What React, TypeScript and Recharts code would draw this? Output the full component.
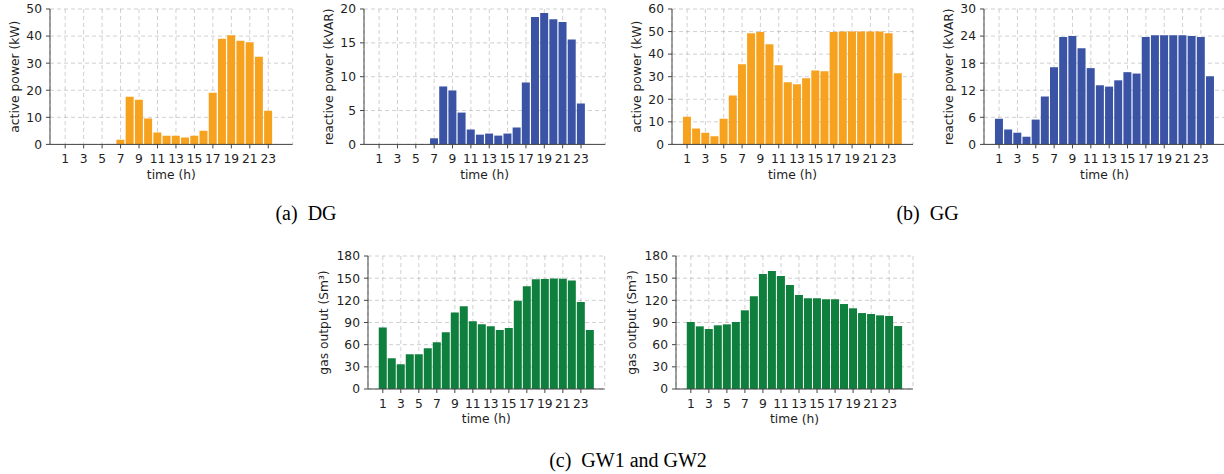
import React from 'react';
import { BarChart, Bar, XAxis, YAxis, CartesianGrid } from 'recharts';

// hours of the day, one bar each
const hours = [1, 2, 3, 4, 5, 6, 7, 8, 9, 10, 11, 12, 13, 14, 15, 16, 17, 18, 19, 20, 21, 22, 23, 24];
const hourTicks = [1, 3, 5, 7, 9, 11, 13, 15, 17, 19, 21, 23];

// (a) DG
const dgActive = [0, 0, 0, 0, 0, 0, 1.7, 17.6, 16.5, 9.6, 4.4, 3.2, 3.2, 2.5, 3.2, 5.0, 19.1, 39.0, 40.3, 38.3, 37.7, 32.4, 12.4, 0];
const dgReactive = [0, 0, 0, 0, 0, 0, 0.9, 8.56, 7.97, 4.7, 2.2, 1.44, 1.6, 1.3, 1.6, 2.5, 9.16, 18.8, 19.4, 18.5, 18.07, 15.5, 6.04, 0];

// (b) GG
const ggActive = [12.3, 7.0, 5.2, 3.6, 11.4, 21.7, 35.5, 49.3, 49.8, 44.4, 35.1, 27.5, 26.6, 29.3, 32.8, 32.4, 49.8, 50, 50, 50, 50, 50, 49.3, 31.5];
const ggReactive = [5.7, 3.3, 2.6, 1.7, 5.5, 10.6, 17.1, 23.8, 24.0, 21.3, 16.9, 13.1, 12.8, 14.2, 16.0, 15.7, 23.8, 24.2, 24.2, 24.2, 24.2, 24.0, 23.8, 15.1];

// (c) GW1 and GW2
const gw1Gas = [83.4, 41.5, 33.4, 46.9, 46.9, 55.0, 63.2, 76.7, 103.7, 111.9, 91.6, 87.5, 84.8, 79.8, 82.5, 119.5, 138.9, 148.4, 148.8, 149.7, 149.3, 147.0, 117.7, 79.8];
const gw2Gas = [90.7, 84.8, 81.2, 86.2, 87.5, 90.7, 106.5, 125.4, 155.6, 159.7, 152.9, 140.7, 127.2, 122.7, 122.7, 121.3, 121.3, 115.0, 109.2, 102.8, 101.5, 99.7, 98.8, 85.2];

const ticksDgP = [0, 10, 20, 30, 40, 50];
const ticksDgQ = [0, 5, 10, 15, 20];
const ticksGgP = [0, 10, 20, 30, 40, 50, 60];
const ticksGgQ = [0, 6, 12, 18, 24, 30];
const ticksGas = [0, 30, 60, 90, 120, 150, 180];

const ORANGE = '#F7A21E';
const BLUE = '#3A53A4';
const GREEN = '#0F7F3D';
const SPINE = '#444';
const TXT = '#1e1e1e';
const FONT = 'DejaVu Sans';
const FS = 12.3;
const xDomain: [number, number] = [-0.645, 25.645];

type PanelProps = {
  values: number[];
  color: string;
  yTicks: number[];
  yLabel: string;
  x0: number;
  y0: number;
  w: number;
  h: number;
  labelGap: number;
};

const Panel = ({ values, color, yTicks, yLabel, x0, y0, w, h, labelGap }: PanelProps) => {
  const data = hours.map((hr, i) => ({ hr, v: values[i] }));
  const yw = labelGap * 2;
  const tickStyle = { fill: TXT, fontSize: FS, fontFamily: FONT };
  return (
    <div className="panel" style={{ position: 'absolute', left: x0 - yw, top: y0 - 10 }}>
      <BarChart
        width={w + yw + 10}
        height={h + 70}
        data={data}
        margin={{ top: 10, right: 10, bottom: 0, left: 0 }}
        barCategoryGap="5%"
      >
        <XAxis
          dataKey="hr"
          type="number"
          domain={xDomain}
          allowDataOverflow
          ticks={hourTicks}
          interval={0}
          height={60}
          tickSize={4}
          tickMargin={6}
          tick={tickStyle}
          tickLine={{ stroke: SPINE }}
          axisLine={{ stroke: SPINE }}
          label={{ value: 'time (h)', position: 'center', fill: TXT, fontSize: FS, fontFamily: FONT }}
        />
        <XAxis
          xAxisId="top"
          orientation="top"
          type="number"
          domain={xDomain}
          allowDataOverflow
          height={0}
          tick={false}
          tickLine={false}
          axisLine={{ stroke: SPINE }}
        />
        <YAxis
          type="number"
          domain={[0, yTicks[yTicks.length - 1]]}
          ticks={yTicks}
          interval={0}
          width={yw}
          tickSize={4}
          tickMargin={4}
          tick={tickStyle}
          tickLine={{ stroke: SPINE }}
          axisLine={{ stroke: SPINE }}
          label={{ value: yLabel, angle: -90, position: 'center', fill: TXT, fontSize: FS, fontFamily: FONT }}
        />
        <YAxis
          yAxisId="right"
          orientation="right"
          type="number"
          domain={[0, 1]}
          width={0}
          tick={false}
          tickLine={false}
          axisLine={{ stroke: SPINE }}
        />
        <Bar dataKey="v" fill={color} isAnimationActive={false} />
        <CartesianGrid stroke="#a8a8a8" strokeOpacity={0.55} strokeDasharray="4 3" />
      </BarChart>
    </div>
  );
};

const captionStyle = { fontFamily: 'Liberation Serif', fontSize: 20, fill: '#000' };

const css = `.panel text { font-family: 'DejaVu Sans', sans-serif; font-size: 12.3px; }`;

export default function App() {
  return (
    <div style={{ position: 'absolute', left: 0, top: 0, width: 1224, height: 474, overflow: 'hidden', background: '#fff' }}>
      <style>{css}</style>
      <Panel values={dgActive} color={ORANGE} yTicks={ticksDgP} yLabel="active power (kW)" x0={50} y0={9.3} w={242.7} h={135.4} labelGap={35} />
      <Panel values={dgReactive} color={BLUE} yTicks={ticksDgQ} yLabel="reactive power (kVAR)" x0={364} y0={9.3} w={241.3} h={135.4} labelGap={35} />
      <Panel values={ggActive} color={ORANGE} yTicks={ticksGgP} yLabel="active power (kW)" x0={671.7} y0={9.3} w={241} h={135.4} labelGap={35} />
      <Panel values={ggReactive} color={BLUE} yTicks={ticksGgQ} yLabel="reactive power (kVAR)" x0={984.3} y0={9.3} w={241.2} h={135.4} labelGap={35} />
      <Panel values={gw1Gas} color={GREEN} yTicks={ticksGas} yLabel="gas output (Sm³)" x0={368.3} y0={255.7} w={236.7} h={133} labelGap={44} />
      <Panel values={gw2Gas} color={GREEN} yTicks={ticksGas} yLabel="gas output (Sm³)" x0={675.7} y0={255.7} w={237} h={133} labelGap={44} />
      <svg width={1224} height={474} style={{ position: 'absolute', left: 0, top: 0, pointerEvents: 'none' }}>
        <text x={306} y={220} textAnchor="middle" style={captionStyle} xmlSpace="preserve">(a)  DG</text>
        <text x={927.5} y={220} textAnchor="middle" style={captionStyle} xmlSpace="preserve">(b)  GG</text>
        <text x={628} y={467} textAnchor="middle" style={captionStyle} xmlSpace="preserve">(c)  GW1 and GW2</text>
      </svg>
    </div>
  );
}
